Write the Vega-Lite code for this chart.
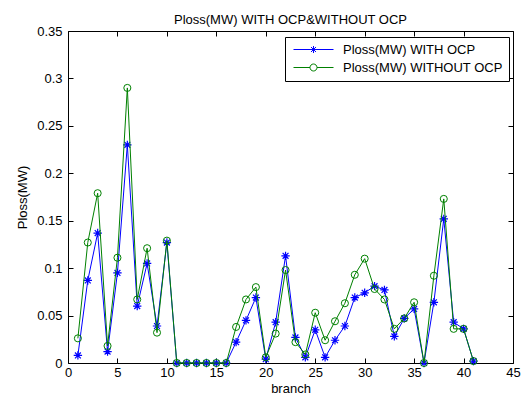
{
  "$schema": "https://vega.github.io/schema/vega-lite/v6.json",
  "width": 445,
  "height": 332,
  "autosize": "none",
  "padding": {"left": 68, "top": 31, "right": 16, "bottom": 41},
  "background": "white",
  "title": {"text": "Ploss(MW) WITH OCP&WITHOUT OCP", "font": "Liberation Sans", "fontSize": 13, "fontWeight": "normal", "color": "black", "baseline": "alphabetic", "offset": 8, "dy": 20, "anchor": "middle"},
  "config": {"view": {"stroke": null}, "font": "Liberation Sans"},
  "datasets": {
    "ploss": [
      {"branch": 1, "series": "Ploss(MW) WITH OCP", "ploss": 0.008},
      {"branch": 2, "series": "Ploss(MW) WITH OCP", "ploss": 0.087},
      {"branch": 3, "series": "Ploss(MW) WITH OCP", "ploss": 0.137},
      {"branch": 4, "series": "Ploss(MW) WITH OCP", "ploss": 0.012},
      {"branch": 5, "series": "Ploss(MW) WITH OCP", "ploss": 0.095},
      {"branch": 6, "series": "Ploss(MW) WITH OCP", "ploss": 0.230},
      {"branch": 7, "series": "Ploss(MW) WITH OCP", "ploss": 0.060},
      {"branch": 8, "series": "Ploss(MW) WITH OCP", "ploss": 0.105},
      {"branch": 9, "series": "Ploss(MW) WITH OCP", "ploss": 0.039},
      {"branch": 10, "series": "Ploss(MW) WITH OCP", "ploss": 0.127},
      {"branch": 11, "series": "Ploss(MW) WITH OCP", "ploss": 0},
      {"branch": 12, "series": "Ploss(MW) WITH OCP", "ploss": 0},
      {"branch": 13, "series": "Ploss(MW) WITH OCP", "ploss": 0},
      {"branch": 14, "series": "Ploss(MW) WITH OCP", "ploss": 0},
      {"branch": 15, "series": "Ploss(MW) WITH OCP", "ploss": 0},
      {"branch": 16, "series": "Ploss(MW) WITH OCP", "ploss": 0},
      {"branch": 17, "series": "Ploss(MW) WITH OCP", "ploss": 0.022},
      {"branch": 18, "series": "Ploss(MW) WITH OCP", "ploss": 0.045},
      {"branch": 19, "series": "Ploss(MW) WITH OCP", "ploss": 0.069},
      {"branch": 20, "series": "Ploss(MW) WITH OCP", "ploss": 0.004},
      {"branch": 21, "series": "Ploss(MW) WITH OCP", "ploss": 0.043},
      {"branch": 22, "series": "Ploss(MW) WITH OCP", "ploss": 0.113},
      {"branch": 23, "series": "Ploss(MW) WITH OCP", "ploss": 0.027},
      {"branch": 24, "series": "Ploss(MW) WITH OCP", "ploss": 0.006},
      {"branch": 25, "series": "Ploss(MW) WITH OCP", "ploss": 0.035},
      {"branch": 26, "series": "Ploss(MW) WITH OCP", "ploss": 0.006},
      {"branch": 27, "series": "Ploss(MW) WITH OCP", "ploss": 0.024},
      {"branch": 28, "series": "Ploss(MW) WITH OCP", "ploss": 0.039},
      {"branch": 29, "series": "Ploss(MW) WITH OCP", "ploss": 0.069},
      {"branch": 30, "series": "Ploss(MW) WITH OCP", "ploss": 0.074},
      {"branch": 31, "series": "Ploss(MW) WITH OCP", "ploss": 0.081},
      {"branch": 32, "series": "Ploss(MW) WITH OCP", "ploss": 0.077},
      {"branch": 33, "series": "Ploss(MW) WITH OCP", "ploss": 0.028},
      {"branch": 34, "series": "Ploss(MW) WITH OCP", "ploss": 0.047},
      {"branch": 35, "series": "Ploss(MW) WITH OCP", "ploss": 0.057},
      {"branch": 36, "series": "Ploss(MW) WITH OCP", "ploss": 0},
      {"branch": 37, "series": "Ploss(MW) WITH OCP", "ploss": 0.064},
      {"branch": 38, "series": "Ploss(MW) WITH OCP", "ploss": 0.152},
      {"branch": 39, "series": "Ploss(MW) WITH OCP", "ploss": 0.043},
      {"branch": 40, "series": "Ploss(MW) WITH OCP", "ploss": 0.036},
      {"branch": 41, "series": "Ploss(MW) WITH OCP", "ploss": 0.002},
      {"branch": 1, "series": "Ploss(MW) WITHOUT OCP", "ploss": 0.026},
      {"branch": 2, "series": "Ploss(MW) WITHOUT OCP", "ploss": 0.127},
      {"branch": 3, "series": "Ploss(MW) WITHOUT OCP", "ploss": 0.179},
      {"branch": 4, "series": "Ploss(MW) WITHOUT OCP", "ploss": 0.018},
      {"branch": 5, "series": "Ploss(MW) WITHOUT OCP", "ploss": 0.111},
      {"branch": 6, "series": "Ploss(MW) WITHOUT OCP", "ploss": 0.290},
      {"branch": 7, "series": "Ploss(MW) WITHOUT OCP", "ploss": 0.067},
      {"branch": 8, "series": "Ploss(MW) WITHOUT OCP", "ploss": 0.121},
      {"branch": 9, "series": "Ploss(MW) WITHOUT OCP", "ploss": 0.032},
      {"branch": 10, "series": "Ploss(MW) WITHOUT OCP", "ploss": 0.129},
      {"branch": 11, "series": "Ploss(MW) WITHOUT OCP", "ploss": 0},
      {"branch": 12, "series": "Ploss(MW) WITHOUT OCP", "ploss": 0},
      {"branch": 13, "series": "Ploss(MW) WITHOUT OCP", "ploss": 0},
      {"branch": 14, "series": "Ploss(MW) WITHOUT OCP", "ploss": 0},
      {"branch": 15, "series": "Ploss(MW) WITHOUT OCP", "ploss": 0},
      {"branch": 16, "series": "Ploss(MW) WITHOUT OCP", "ploss": 0},
      {"branch": 17, "series": "Ploss(MW) WITHOUT OCP", "ploss": 0.038},
      {"branch": 18, "series": "Ploss(MW) WITHOUT OCP", "ploss": 0.067},
      {"branch": 19, "series": "Ploss(MW) WITHOUT OCP", "ploss": 0.080},
      {"branch": 20, "series": "Ploss(MW) WITHOUT OCP", "ploss": 0.006},
      {"branch": 21, "series": "Ploss(MW) WITHOUT OCP", "ploss": 0.031},
      {"branch": 22, "series": "Ploss(MW) WITHOUT OCP", "ploss": 0.098},
      {"branch": 23, "series": "Ploss(MW) WITHOUT OCP", "ploss": 0.022},
      {"branch": 24, "series": "Ploss(MW) WITHOUT OCP", "ploss": 0.009},
      {"branch": 25, "series": "Ploss(MW) WITHOUT OCP", "ploss": 0.053},
      {"branch": 26, "series": "Ploss(MW) WITHOUT OCP", "ploss": 0.024},
      {"branch": 27, "series": "Ploss(MW) WITHOUT OCP", "ploss": 0.044},
      {"branch": 28, "series": "Ploss(MW) WITHOUT OCP", "ploss": 0.063},
      {"branch": 29, "series": "Ploss(MW) WITHOUT OCP", "ploss": 0.093},
      {"branch": 30, "series": "Ploss(MW) WITHOUT OCP", "ploss": 0.110},
      {"branch": 31, "series": "Ploss(MW) WITHOUT OCP", "ploss": 0.078},
      {"branch": 32, "series": "Ploss(MW) WITHOUT OCP", "ploss": 0.067},
      {"branch": 33, "series": "Ploss(MW) WITHOUT OCP", "ploss": 0.036},
      {"branch": 34, "series": "Ploss(MW) WITHOUT OCP", "ploss": 0.047},
      {"branch": 35, "series": "Ploss(MW) WITHOUT OCP", "ploss": 0.064},
      {"branch": 36, "series": "Ploss(MW) WITHOUT OCP", "ploss": 0},
      {"branch": 37, "series": "Ploss(MW) WITHOUT OCP", "ploss": 0.092},
      {"branch": 38, "series": "Ploss(MW) WITHOUT OCP", "ploss": 0.173},
      {"branch": 39, "series": "Ploss(MW) WITHOUT OCP", "ploss": 0.036},
      {"branch": 40, "series": "Ploss(MW) WITHOUT OCP", "ploss": 0.036},
      {"branch": 41, "series": "Ploss(MW) WITHOUT OCP", "ploss": 0.002}
    ]
  },
  "data": {"name": "ploss"},
  "layer": [
    {
      "transform": [{"filter": "datum.series === 'Ploss(MW) WITH OCP'"}],
      "mark": {"type": "line", "strokeWidth": 1, "clip": true},
      "encoding": {
        "x": {"field": "branch", "type": "quantitative", "scale": {"domain": [0, 45], "nice": false},
          "axis": {"orient": "bottom", "values": [0,5,10,15,20,25,30,35,40,45], "title": "branch", "grid": false,
            "domainColor": "black", "tickColor": "black", "tickSize": -5, "labelPadding": 8, "labelFontSize": 13, "labelColor": "black", "labelFont": "Liberation Sans",
            "titleFont": "Liberation Sans", "titleFontSize": 13, "titleFontWeight": "normal", "titleColor": "black", "titlePadding": 3, "labelFlush": false}},
        "y": {"field": "ploss", "type": "quantitative", "scale": {"domain": [0, 0.35], "nice": false},
          "axis": {"orient": "left", "values": [0,0.05,0.1,0.15,0.2,0.25,0.3,0.35], "format": "~g", "title": "Ploss(MW)", "grid": false,
            "domainColor": "black", "tickColor": "black", "tickSize": -5, "labelPadding": 11, "labelFontSize": 13, "labelColor": "black", "labelFont": "Liberation Sans",
            "titleFont": "Liberation Sans", "titleFontSize": 13, "titleFontWeight": "normal", "titleColor": "black", "titlePadding": 7, "labelFlush": false}},
        "color": {"field": "series", "type": "nominal",
          "scale": {"domain": ["Ploss(MW) WITH OCP", "Ploss(MW) WITHOUT OCP"], "range": ["#0000ff", "#008000"]},
          "legend": {"title": null, "orient": "none", "legendX": 217, "legendY": 6, "strokeColor": "black", "fillColor": "white", "padding": 6,
            "labelFont": "Liberation Sans", "labelFontSize": 13, "labelColor": "black", "labelOffset": 23, "symbolOffset": 16, "symbolSize": 100, "symbolStrokeWidth": 1, "rowPadding": 4,
            "encode": {"symbols": {"update": {
              "shape": {"signal": "datum.index === 0 ? 'M-4,0H4M0,-0.7V0.7M-0.7,0H0.7M-0.5,-0.5L0.5,0.5M-0.5,0.5L0.5,-0.5' : 'M-4,0H-0.7M0.7,0H4M-0.7,0A0.7,0.7 0 1,0 0.7,0A0.7,0.7 0 1,0 -0.7,0'"},
              "fill": {"value": "transparent"}}}}}}
      }
    },
    {
      "transform": [{"filter": "datum.series === 'Ploss(MW) WITH OCP'"}],
      "mark": {"type": "point", "shape": "M0,-1V1M-1,0H1M-0.7,-0.7L0.7,0.7M-0.7,0.7L0.7,-0.7", "filled": false, "size": 70, "strokeWidth": 1.2, "opacity": 1},
      "encoding": {
        "x": {"field": "branch", "type": "quantitative",
          "axis": {"orient": "top", "values": [0,5,10,15,20,25,30,35,40,45], "labels": false, "title": null, "grid": false, "domainColor": "black", "tickColor": "black", "tickSize": -5}},
        "y": {"field": "ploss", "type": "quantitative",
          "axis": {"orient": "right", "values": [0,0.05,0.1,0.15,0.2,0.25,0.3,0.35], "labels": false, "title": null, "grid": false, "domainColor": "black", "tickColor": "black", "tickSize": -5}},
        "color": {"field": "series", "type": "nominal"}
      }
    },
    {
      "transform": [{"filter": "datum.series === 'Ploss(MW) WITHOUT OCP'"}],
      "mark": {"type": "line", "strokeWidth": 1},
      "encoding": {
        "x": {"field": "branch", "type": "quantitative", "axis": null},
        "y": {"field": "ploss", "type": "quantitative", "axis": null},
        "color": {"field": "series", "type": "nominal"}
      }
    },
    {
      "transform": [{"filter": "datum.series === 'Ploss(MW) WITHOUT OCP'"}],
      "mark": {"type": "point", "shape": "circle", "filled": false, "size": 50, "strokeWidth": 1, "opacity": 1},
      "encoding": {
        "x": {"field": "branch", "type": "quantitative", "axis": null},
        "y": {"field": "ploss", "type": "quantitative", "axis": null},
        "color": {"field": "series", "type": "nominal"}
      }
    }
  ],
  "resolve": {"axis": {"x": "independent", "y": "independent"}}
}
